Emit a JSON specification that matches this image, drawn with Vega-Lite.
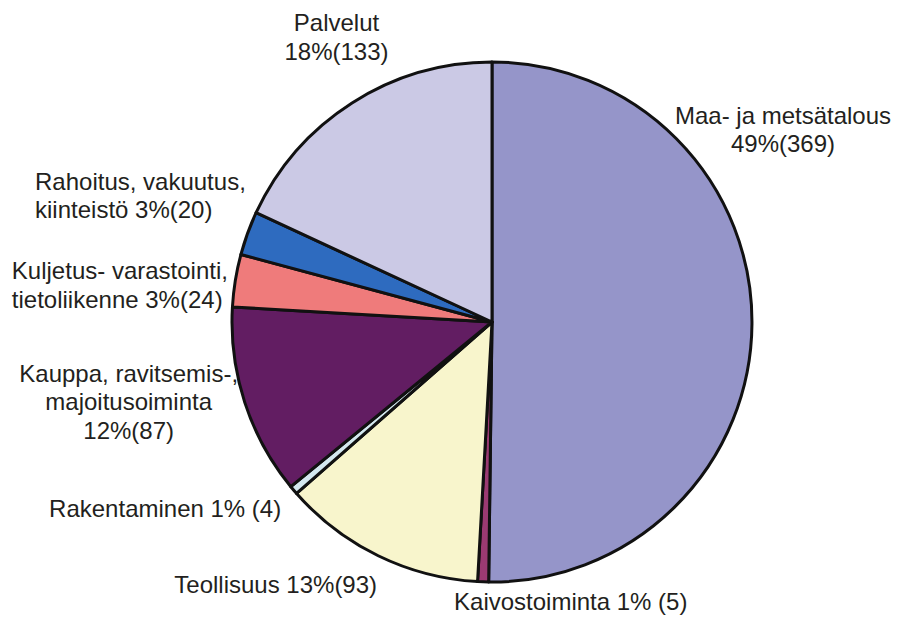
{
  "$schema": "https://vega.github.io/schema/vega-lite/v6.json",
  "width": 834,
  "height": 590,
  "autosize": {"type": "none"},
  "padding": {"left": 75, "top": 27, "right": 0, "bottom": 0},
  "background": "white",
  "config": {"view": {"stroke": null}},
  "data": {
    "values": [
      {"ord": 1, "cat": "Maa- ja metsätalous", "value": 369, "label": "Maa- ja metsätalous\n49%(369)"},
      {"ord": 2, "cat": "Kaivostoiminta", "value": 5, "label": "Kaivostoiminta 1% (5)"},
      {"ord": 3, "cat": "Teollisuus", "value": 93, "label": "Teollisuus 13%(93)"},
      {"ord": 4, "cat": "Rakentaminen", "value": 4, "label": "Rakentaminen 1% (4)"},
      {"ord": 5, "cat": "Kauppa, ravitsemis-, majoitusoiminta", "value": 87, "label": "Kauppa, ravitsemis-,\nmajoitusoiminta\n12%(87)"},
      {"ord": 6, "cat": "Kuljetus- varastointi, tietoliikenne", "value": 24, "label": "Kuljetus- varastointi,\ntietoliikenne 3%(24)"},
      {"ord": 7, "cat": "Rahoitus, vakuutus, kiinteistö", "value": 20, "label": "Rahoitus, vakuutus,\nkiinteistö 3%(20)"},
      {"ord": 8, "cat": "Palvelut", "value": 133, "label": "Palvelut\n18%(133)"}
    ]
  },
  "encoding": {
    "theta": {"field": "value", "type": "quantitative", "stack": true},
    "order": {"field": "ord", "type": "quantitative"}
  },
  "layer": [
    {
      "mark": {"type": "arc", "outerRadius": 260, "stroke": "#111111", "strokeWidth": 3, "strokeJoin": "round"},
      "encoding": {
        "color": {
          "field": "cat",
          "type": "nominal",
          "legend": null,
          "sort": {"field": "ord"},
          "scale": {
            "domain": ["Maa- ja metsätalous", "Kaivostoiminta", "Teollisuus", "Rakentaminen", "Kauppa, ravitsemis-, majoitusoiminta", "Kuljetus- varastointi, tietoliikenne", "Rahoitus, vakuutus, kiinteistö", "Palvelut"],
            "range": ["#9595c9", "#9b3a72", "#f8f5cc", "#d4e8ef", "#621d62", "#ef7b7b", "#2e6bbf", "#cbc9e5"]
          }
        }
      }
    },
    {
      "mark": {
        "type": "text",
        "radius": 300,
        "font": "Liberation Sans",
        "fontSize": 24,
        "lineHeight": 28.5,
        "lineBreak": "\n",
        "fill": "#231f20",
        "baseline": "middle",
        "align": {"expr": "datum.ord == 6 || datum.ord == 7 ? 'left' : 'center'"},
        "dx": {"expr": "[-9, 89, -85, -98, -78, -184, -175, 6][datum.ord - 1]"},
        "dy": {"expr": "[-207, -19, -6, -6, -40, -2, -37, -45][datum.ord - 1]"}
      },
      "encoding": {
        "text": {"field": "label", "type": "nominal"}
      }
    }
  ]
}
